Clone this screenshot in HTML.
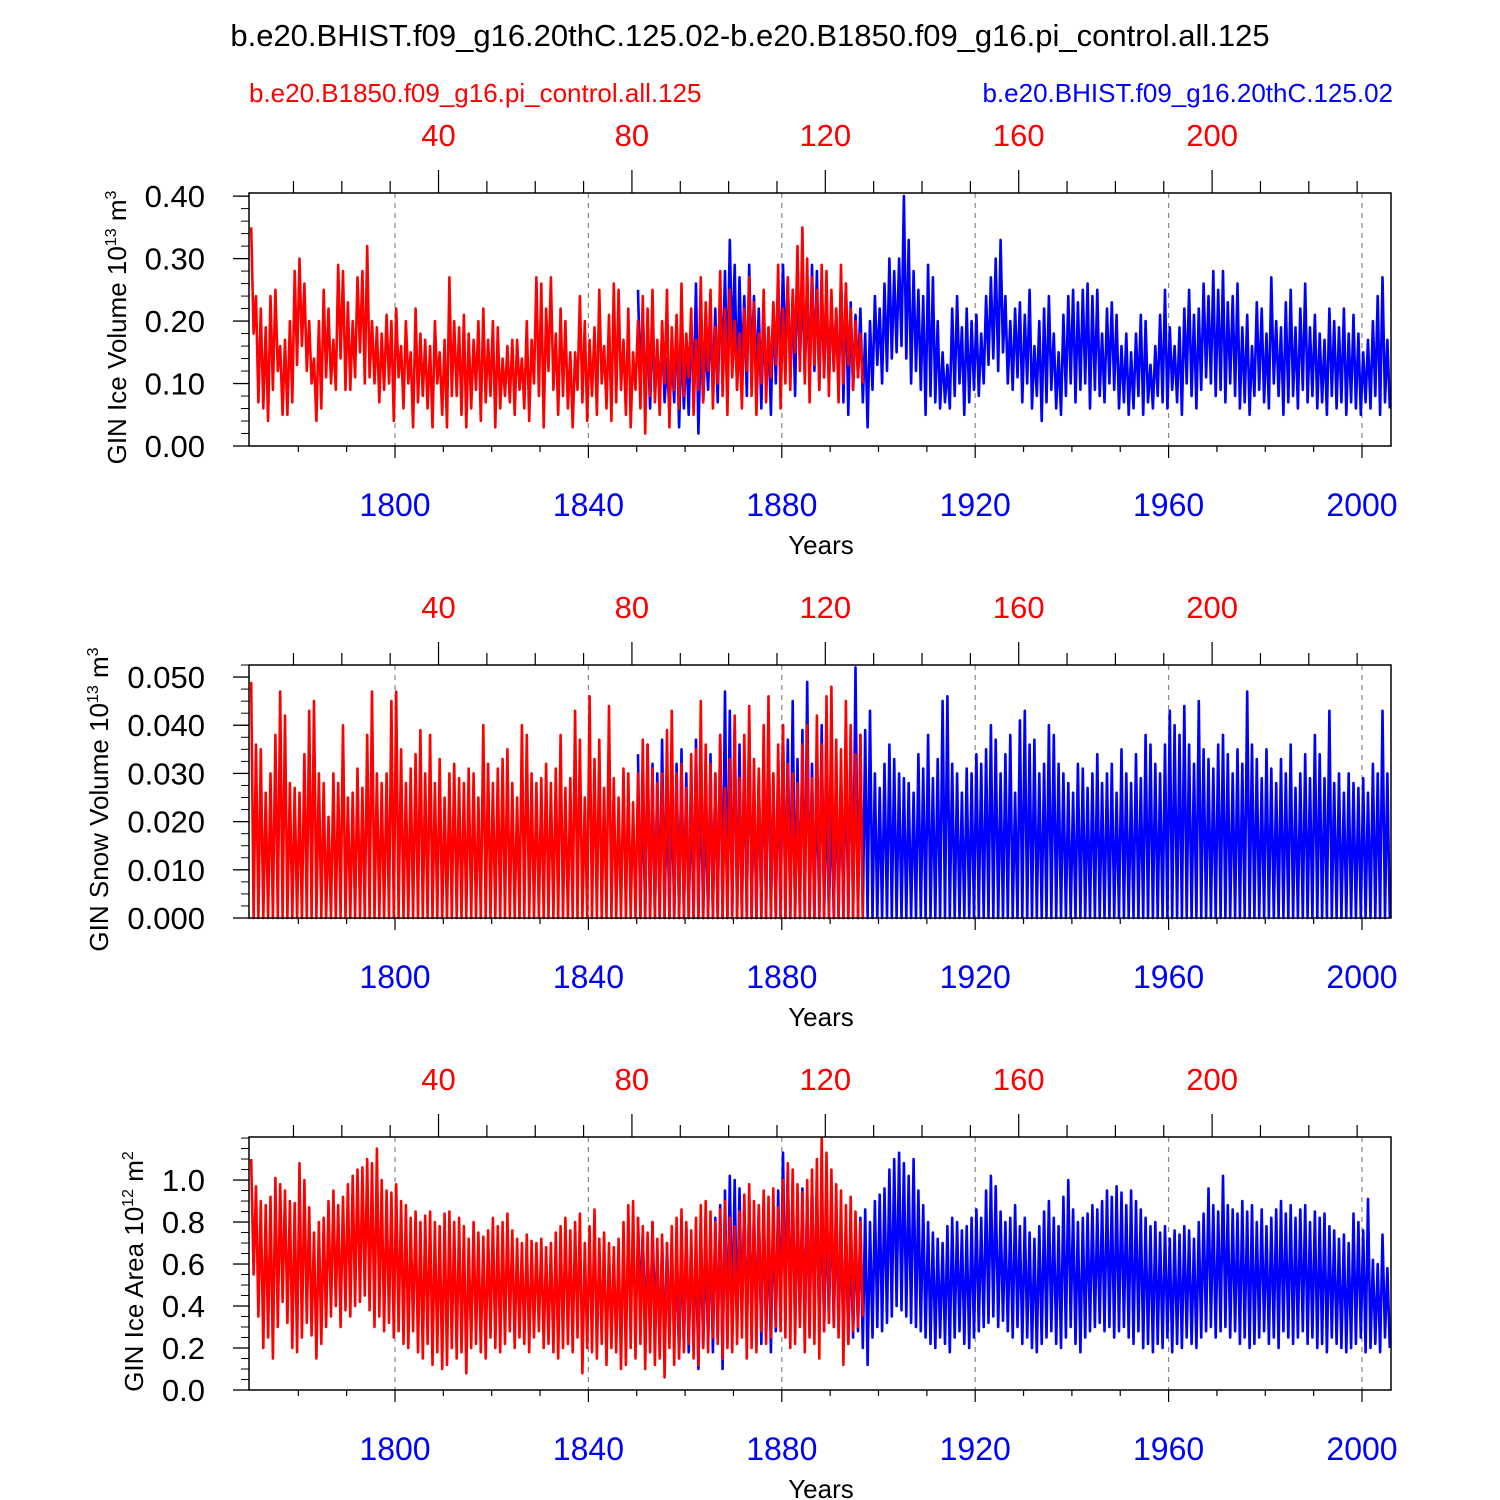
<!DOCTYPE html>
<html><head><meta charset="utf-8">
<style>
html,body{margin:0;padding:0;background:#fff;}
svg{display:block;font-family:"Liberation Sans",sans-serif;}
</style></head>
<body>
<svg id="chart" width="1500" height="1500" viewBox="0 0 1500 1500">
<text x="750" y="46" text-anchor="middle" font-size="31">b.e20.BHIST.f09_g16.20thC.125.02-b.e20.B1850.f09_g16.pi_control.all.125</text>
<text x="249" y="102" font-size="26" fill="#f00">b.e20.B1850.f09_g16.pi_control.all.125</text>
<text x="1393" y="102" font-size="26" fill="#00f" text-anchor="end">b.e20.BHIST.f09_g16.20thC.125.02</text>
</svg>
<script>
// ---- data (annual high / low values) ----
const redStartYear = 1770;
const blueStartYear = 1850;
const bottomTicks = [1800, 1840, 1880, 1920, 1960, 2000];
const topTicks = [40, 80, 120, 160, 200];

const iceVolRedMax = [0.35,0.24,0.22,0.19,0.24,0.25,0.16,0.17,0.20,0.28,0.30,0.26,0.20,0.14,0.20,0.25,0.22,0.17,0.29,0.28,0.23,0.20,0.27,0.28,0.32,0.20,0.19,0.18,0.21,0.20,0.22,0.16,0.20,0.15,0.22,0.18,0.17,0.16,0.20,0.15,0.17,0.27,0.20,0.19,0.21,0.18,0.17,0.20,0.22,0.17,0.20,0.19,0.14,0.16,0.17,0.17,0.14,0.20,0.17,0.27,0.26,0.22,0.27,0.18,0.22,0.20,0.15,0.15,0.24,0.20,0.17,0.19,0.25,0.16,0.21,0.26,0.25,0.17,0.22,0.15,0.20,0.24,0.22,0.25,0.17,0.20,0.25,0.19,0.21,0.26,0.18,0.22,0.17,0.27,0.23,0.25,0.19,0.28,0.22,0.25,0.20,0.18,0.22,0.27,0.23,0.18,0.25,0.19,0.23,0.29,0.22,0.27,0.25,0.32,0.35,0.30,0.27,0.25,0.29,0.28,0.25,0.22,0.29,0.26,0.22,0.20,0.18];
const iceVolRedMin = [0.18,0.07,0.06,0.04,0.09,0.12,0.05,0.05,0.07,0.13,0.16,0.12,0.10,0.04,0.06,0.11,0.10,0.09,0.14,0.09,0.09,0.11,0.15,0.10,0.11,0.10,0.07,0.09,0.10,0.04,0.11,0.06,0.10,0.03,0.07,0.08,0.06,0.03,0.10,0.05,0.03,0.08,0.08,0.05,0.03,0.06,0.09,0.04,0.07,0.08,0.03,0.06,0.08,0.07,0.05,0.09,0.06,0.04,0.10,0.08,0.03,0.12,0.09,0.05,0.08,0.06,0.03,0.09,0.07,0.04,0.08,0.05,0.10,0.06,0.04,0.07,0.09,0.05,0.03,0.09,0.06,0.02,0.08,0.07,0.05,0.10,0.03,0.09,0.06,0.08,0.11,0.05,0.09,0.07,0.12,0.06,0.10,0.08,0.05,0.11,0.09,0.06,0.12,0.08,0.05,0.10,0.07,0.11,0.13,0.06,0.10,0.09,0.15,0.12,0.10,0.07,0.13,0.09,0.11,0.08,0.12,0.07,0.10,0.13,0.09,0.11,0.10];
const iceVolBlueMax = [0.25,0.22,0.18,0.20,0.15,0.18,0.14,0.15,0.20,0.17,0.16,0.20,0.26,0.18,0.17,0.20,0.22,0.25,0.28,0.33,0.29,0.27,0.24,0.29,0.24,0.22,0.21,0.19,0.23,0.25,0.29,0.27,0.24,0.30,0.27,0.25,0.29,0.28,0.26,0.25,0.24,0.22,0.27,0.26,0.23,0.21,0.22,0.18,0.20,0.24,0.22,0.26,0.30,0.28,0.30,0.40,0.33,0.28,0.25,0.24,0.29,0.27,0.20,0.15,0.13,0.22,0.24,0.19,0.22,0.20,0.21,0.18,0.24,0.27,0.30,0.33,0.24,0.20,0.22,0.23,0.21,0.25,0.16,0.20,0.22,0.24,0.18,0.15,0.21,0.24,0.25,0.23,0.25,0.26,0.24,0.25,0.18,0.22,0.23,0.21,0.16,0.18,0.15,0.18,0.21,0.20,0.13,0.16,0.21,0.25,0.19,0.16,0.19,0.22,0.25,0.21,0.22,0.26,0.24,0.28,0.25,0.28,0.23,0.24,0.26,0.19,0.21,0.16,0.23,0.22,0.18,0.27,0.20,0.19,0.23,0.25,0.19,0.22,0.26,0.19,0.21,0.18,0.17,0.22,0.20,0.19,0.22,0.18,0.21,0.18,0.15,0.17,0.20,0.24,0.27,0.17,0.16,0.18];
const iceVolBlueMin = [0.10,0.08,0.06,0.08,0.09,0.07,0.05,0.07,0.03,0.06,0.05,0.08,0.02,0.07,0.09,0.10,0.07,0.12,0.10,0.15,0.09,0.12,0.08,0.13,0.11,0.06,0.09,0.05,0.10,0.12,0.14,0.11,0.08,0.13,0.11,0.10,0.12,0.09,0.11,0.10,0.12,0.08,0.07,0.05,0.09,0.11,0.07,0.03,0.09,0.13,0.10,0.12,0.14,0.15,0.16,0.14,0.10,0.12,0.09,0.05,0.08,0.07,0.06,0.07,0.06,0.08,0.10,0.05,0.07,0.09,0.08,0.10,0.13,0.14,0.12,0.15,0.10,0.09,0.11,0.07,0.10,0.06,0.08,0.04,0.07,0.09,0.06,0.05,0.08,0.10,0.07,0.09,0.10,0.06,0.09,0.08,0.07,0.10,0.09,0.06,0.07,0.05,0.06,0.08,0.05,0.07,0.06,0.08,0.07,0.06,0.09,0.07,0.05,0.10,0.08,0.06,0.09,0.11,0.10,0.08,0.09,0.07,0.10,0.08,0.06,0.07,0.05,0.08,0.09,0.07,0.06,0.10,0.08,0.05,0.07,0.08,0.06,0.09,0.07,0.08,0.06,0.07,0.05,0.08,0.06,0.07,0.05,0.07,0.06,0.05,0.07,0.06,0.08,0.05,0.07,0.06,0.09,0.08];

const snowRedMax = [0.049,0.036,0.035,0.026,0.030,0.038,0.047,0.042,0.028,0.027,0.026,0.034,0.043,0.045,0.030,0.028,0.021,0.030,0.028,0.040,0.025,0.026,0.031,0.027,0.038,0.047,0.030,0.028,0.030,0.045,0.047,0.035,0.028,0.031,0.034,0.039,0.030,0.038,0.028,0.033,0.025,0.030,0.032,0.029,0.028,0.031,0.030,0.025,0.040,0.032,0.028,0.031,0.033,0.035,0.028,0.025,0.040,0.038,0.030,0.028,0.029,0.032,0.028,0.031,0.038,0.027,0.029,0.043,0.037,0.025,0.046,0.033,0.037,0.027,0.044,0.029,0.025,0.031,0.030,0.024,0.030,0.037,0.036,0.031,0.028,0.030,0.039,0.043,0.030,0.032,0.027,0.034,0.035,0.045,0.036,0.032,0.030,0.038,0.027,0.033,0.042,0.029,0.038,0.044,0.033,0.031,0.040,0.046,0.030,0.036,0.040,0.032,0.030,0.028,0.036,0.040,0.029,0.042,0.036,0.046,0.048,0.037,0.035,0.045,0.040,0.034,0.038];
const snowBlueMax = [0.034,0.027,0.036,0.032,0.030,0.037,0.027,0.028,0.032,0.035,0.030,0.026,0.037,0.029,0.024,0.034,0.030,0.038,0.047,0.043,0.040,0.036,0.034,0.041,0.028,0.030,0.035,0.042,0.030,0.033,0.040,0.037,0.045,0.033,0.039,0.049,0.032,0.030,0.040,0.028,0.025,0.028,0.030,0.034,0.038,0.052,0.038,0.039,0.043,0.030,0.027,0.032,0.036,0.033,0.030,0.029,0.028,0.026,0.034,0.031,0.038,0.029,0.033,0.045,0.046,0.032,0.030,0.026,0.031,0.030,0.034,0.032,0.035,0.040,0.037,0.030,0.034,0.038,0.026,0.041,0.043,0.036,0.037,0.030,0.032,0.040,0.038,0.032,0.030,0.028,0.026,0.032,0.031,0.027,0.030,0.034,0.028,0.030,0.032,0.026,0.035,0.030,0.028,0.034,0.029,0.038,0.036,0.032,0.030,0.036,0.043,0.040,0.038,0.044,0.036,0.032,0.045,0.035,0.033,0.031,0.036,0.038,0.034,0.030,0.035,0.032,0.047,0.036,0.033,0.029,0.035,0.031,0.028,0.033,0.030,0.036,0.027,0.030,0.034,0.029,0.038,0.034,0.029,0.043,0.028,0.030,0.026,0.030,0.028,0.027,0.029,0.026,0.032,0.030,0.043,0.030,0.029];

const areaRedMax = [1.10,0.97,0.90,0.88,0.92,1.01,0.98,0.95,0.90,0.89,1.08,1.00,0.87,0.75,0.80,0.82,0.90,0.95,0.88,0.92,0.98,1.02,1.05,1.06,1.10,1.08,1.15,1.00,0.95,0.94,0.98,0.90,0.88,0.82,0.85,0.80,0.83,0.85,0.80,0.78,0.84,0.85,0.80,0.82,0.78,0.72,0.80,0.75,0.73,0.76,0.82,0.78,0.80,0.84,0.76,0.72,0.70,0.74,0.71,0.70,0.72,0.68,0.70,0.75,0.78,0.82,0.76,0.80,0.84,0.70,0.78,0.86,0.72,0.75,0.70,0.68,0.72,0.80,0.88,0.90,0.82,0.78,0.75,0.80,0.72,0.74,0.70,0.78,0.82,0.86,0.80,0.76,0.82,0.88,0.90,0.85,0.80,0.86,0.90,0.82,0.78,0.85,0.93,0.98,0.90,0.88,0.95,0.92,0.96,0.87,1.00,1.08,1.05,0.98,0.94,1.00,1.05,1.10,1.20,1.13,1.05,0.98,0.95,0.88,0.92,0.85,0.80];
const areaRedMin = [0.55,0.35,0.20,0.25,0.15,0.30,0.42,0.32,0.20,0.18,0.25,0.32,0.26,0.15,0.22,0.30,0.35,0.40,0.30,0.38,0.35,0.40,0.42,0.45,0.38,0.30,0.35,0.28,0.32,0.25,0.28,0.22,0.20,0.28,0.18,0.15,0.22,0.12,0.18,0.10,0.12,0.20,0.15,0.18,0.08,0.20,0.22,0.18,0.15,0.25,0.20,0.18,0.22,0.28,0.20,0.25,0.22,0.18,0.25,0.28,0.20,0.22,0.18,0.15,0.20,0.22,0.18,0.25,0.08,0.20,0.18,0.15,0.22,0.12,0.20,0.18,0.10,0.12,0.20,0.15,0.22,0.10,0.18,0.12,0.15,0.06,0.20,0.12,0.15,0.18,0.22,0.15,0.12,0.20,0.18,0.25,0.22,0.15,0.20,0.18,0.22,0.25,0.15,0.20,0.18,0.28,0.22,0.25,0.30,0.28,0.25,0.20,0.22,0.30,0.18,0.25,0.22,0.15,0.28,0.32,0.30,0.25,0.12,0.22,0.28,0.30,0.35];
const areaBlueMax = [0.82,0.75,0.70,0.80,0.65,0.72,0.70,0.68,0.62,0.72,0.78,0.70,0.66,0.75,0.70,0.78,0.82,0.88,0.95,1.02,1.00,0.96,0.90,0.92,0.85,0.88,0.90,0.80,0.86,0.95,1.13,1.05,1.00,0.90,0.96,0.92,1.00,0.95,0.90,0.88,0.92,0.86,0.80,0.78,0.72,0.75,0.82,0.86,0.80,0.90,0.93,0.96,1.05,1.10,1.13,1.08,1.02,1.10,0.95,0.88,0.80,0.75,0.72,0.70,0.78,0.82,0.80,0.76,0.78,0.82,0.86,0.82,0.95,1.02,0.97,0.85,0.80,0.82,0.88,0.78,0.82,0.75,0.72,0.78,0.85,0.90,0.82,0.78,0.92,1.00,0.86,0.80,0.82,0.84,0.88,0.86,0.90,0.95,0.92,0.97,0.94,0.88,0.95,0.90,0.86,0.82,0.78,0.80,0.75,0.78,0.72,0.76,0.74,0.78,0.76,0.72,0.80,0.84,0.96,0.88,0.85,1.02,0.88,0.86,0.84,0.90,0.85,0.88,0.80,0.86,0.78,0.82,0.86,0.90,0.84,0.88,0.82,0.86,0.88,0.80,0.85,0.82,0.84,0.78,0.76,0.72,0.74,0.70,0.84,0.80,0.76,0.91,0.62,0.60,0.74,0.58];
const areaBlueMin = [0.40,0.30,0.25,0.35,0.22,0.18,0.25,0.28,0.15,0.20,0.18,0.25,0.10,0.20,0.22,0.18,0.25,0.10,0.22,0.30,0.28,0.35,0.25,0.32,0.30,0.22,0.25,0.18,0.28,0.32,0.40,0.35,0.28,0.32,0.30,0.26,0.35,0.30,0.28,0.32,0.30,0.28,0.25,0.22,0.25,0.28,0.20,0.12,0.25,0.30,0.28,0.32,0.35,0.40,0.38,0.35,0.32,0.30,0.28,0.25,0.22,0.20,0.25,0.22,0.18,0.25,0.28,0.22,0.20,0.25,0.28,0.30,0.32,0.35,0.30,0.33,0.28,0.25,0.30,0.22,0.25,0.20,0.18,0.22,0.25,0.28,0.22,0.20,0.25,0.30,0.22,0.18,0.25,0.28,0.30,0.32,0.28,0.30,0.25,0.28,0.30,0.25,0.22,0.28,0.20,0.22,0.18,0.22,0.20,0.25,0.18,0.22,0.20,0.25,0.22,0.20,0.25,0.28,0.30,0.25,0.28,0.30,0.25,0.28,0.22,0.25,0.20,0.22,0.25,0.28,0.22,0.25,0.20,0.28,0.25,0.22,0.25,0.28,0.22,0.25,0.20,0.22,0.18,0.25,0.22,0.20,0.18,0.20,0.22,0.25,0.18,0.20,0.22,0.18,0.25,0.20];

const panels = [
  {name:'ice-volume', top:193, ymax:0.405, yticks:[0,0.1,0.2,0.3,0.4], dec:2, minor:0.02,
   title:'GIN Ice Volume 10', sup:'13', unit:' m', usup:'3', tx:118,
   redMax:iceVolRedMax, redMin:iceVolRedMin, blueMax:iceVolBlueMax, blueMin:iceVolBlueMin},
  {name:'snow-volume', top:665, ymax:0.0525, yticks:[0,0.01,0.02,0.03,0.04,0.05], dec:3, minor:0.0025,
   title:'GIN Snow Volume 10', sup:'13', unit:' m', usup:'3', tx:100,
   redMax:snowRedMax, redMin:null, blueMax:snowBlueMax, blueMin:null},
  {name:'ice-area', top:1137, ymax:1.205, yticks:[0,0.2,0.4,0.6,0.8,1.0], dec:1, minor:0.05,
   title:'GIN Ice Area 10', sup:'12', unit:' m', usup:'2', tx:135,
   redMax:areaRedMax, redMin:areaRedMin, blueMax:areaBlueMax, blueMin:areaBlueMin}
];

const NS='http://www.w3.org/2000/svg';
const svg=document.getElementById('chart');
const L=249, R=1391, H=253, x0Year=1769.8, x1Year=2006.0;
function xs(yr){return L+(yr-x0Year)/(x1Year-x0Year)*(R-L);}
function el(tag,attrs,parent){const e=document.createElementNS(NS,tag);for(const k in attrs)e.setAttribute(k,attrs[k]);(parent||svg).appendChild(e);return e;}

panels.forEach(p=>{
  const g=el('g',{});
  
  
  const B=p.top+H;
  const ys=v=>B-v/p.ymax*H;
  bottomTicks.forEach(t=>{
    const ln=el('line',{x1:xs(t),x2:xs(t),y1:p.top,y2:B,stroke:'#888','stroke-width':1.2,'stroke-dasharray':'5,5'},g);
    
    
  });
  function series(mx,mn,start,color,nm){
    let pts=[];
    for(let i=0;i<mx.length;i++){
      const yr=start+i;
      const lo=mn?mn[i]:0;
      if(yr+0.25<=x1Year) pts.push(xs(yr+0.25).toFixed(1)+','+ys(mx[i]).toFixed(1));
      if(yr+0.75<=x1Year) pts.push(xs(yr+0.75).toFixed(1)+','+ys(lo).toFixed(1));
    }
    const pl=el('polyline',{points:pts.join(' '),fill:'none',stroke:color,'stroke-width':2.6,'stroke-linejoin':'round'},g);
    
    
  }
  series(p.blueMax,p.blueMin,blueStartYear,'#00f',p.name+'-historical-line');
  series(p.redMax,p.redMin,redStartYear,'#f00',p.name+'-control-line');
  const fr=el('rect',{x:L,y:p.top,width:R-L,height:H,fill:'none',stroke:'#000','stroke-width':1.5},g);
  
  
  for(let yr=1780;yr<=2000;yr+=10){
    const maj=bottomTicks.includes(yr);
    el('line',{x1:xs(yr),x2:xs(yr),y1:B,y2:B+(maj?12:6),stroke:'#000','stroke-width':1.2},g);
  }
  bottomTicks.forEach(t=>{
    const tx=el('text',{x:xs(t),y:B+70,'text-anchor':'middle','font-size':32,fill:'#00f'},g);
    tx.textContent=t;
    
    
  });
  const xt=el('text',{x:821,y:B+108,'text-anchor':'middle','font-size':26},g);
  xt.textContent='Years';
  
  
  for(let t=10;t<=230;t+=10){
    const maj=topTicks.includes(t);
    el('line',{x1:xs(t+1769),x2:xs(t+1769),y1:p.top,y2:p.top-(maj?23:12),stroke:'#000','stroke-width':1.2},g);
  }
  topTicks.forEach(t=>{
    const tx=el('text',{x:xs(t+1769),y:p.top-47,'text-anchor':'middle','font-size':31,fill:'#f00'},g);
    tx.textContent=t;
    
    
  });
  for(let v=0;v<=p.ymax+1e-9;v+=p.minor){
    el('line',{x1:L,x2:L-8,y1:ys(v),y2:ys(v),stroke:'#000','stroke-width':1},g);
  }
  p.yticks.forEach(v=>{
    el('line',{x1:L,x2:L-16,y1:ys(v),y2:ys(v),stroke:'#000','stroke-width':1.3},g);
    const tx=el('text',{x:205,y:ys(v)+11,'text-anchor':'end','font-size':31},g);
    tx.textContent=v.toFixed(p.dec);
    
    
  });
  const cy=p.top+H/2;
  const yt=el('text',{x:p.tx,y:cy,'text-anchor':'middle','font-size':26,transform:'rotate(-90 '+(p.tx+8)+' '+cy+')'},g);
  
  
  yt.innerHTML=p.title+'<tspan dy="-10" font-size="16">'+p.sup+'</tspan><tspan dy="10">'+p.unit+'</tspan><tspan dy="-10" font-size="16">'+p.usup+'</tspan>';
});
</script>
</body></html>
